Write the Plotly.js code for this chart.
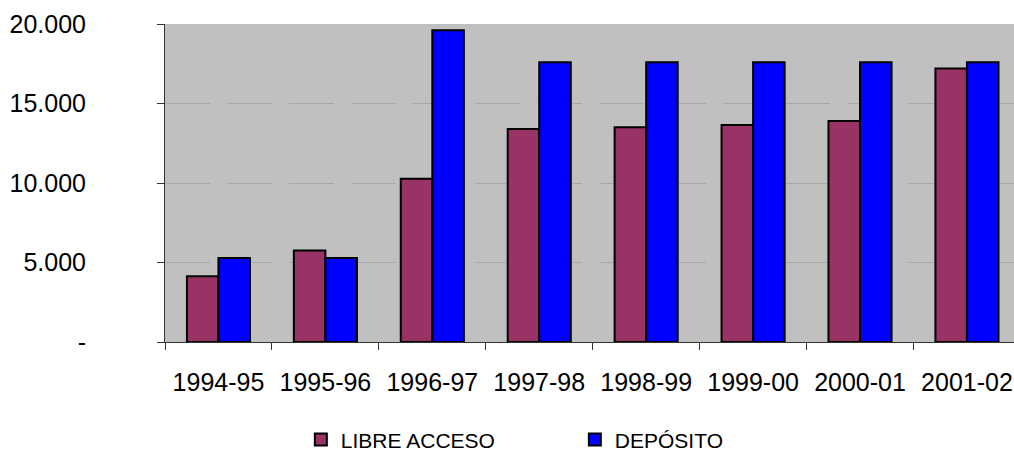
<!DOCTYPE html>
<html>
<head>
<meta charset="utf-8">
<script src="https://cdn.plot.ly/plotly-3.0.1.min.js"></script>
<style>
html,body{margin:0;padding:0;background:#fff;overflow:hidden;}
#chart{width:1014px;height:470px;}
</style>
</head>
<body>
<div id="chart"></div>
<script>
const categories = ["1994-95","1995-96","1996-97","1997-98","1998-99","1999-00","2000-01","2001-02"];
const libreAcceso = [4130, 5760, 10270, 13400, 13500, 13650, 13900, 17200];
const deposito = [5280, 5280, 19600, 17600, 17600, 17600, 17600, 17600];
const yTickVals = [0, 5000, 10000, 15000, 20000];
const yTickText = ["-", "5.000", "10.000", "15.000", "20.000"];

const traces = [
  {
    type: "bar", name: "LIBRE ACCESO", x: categories, y: libreAcceso,
    marker: {color: "#993366", line: {color: "#000000", width: 2}},
    hoverinfo: "none"
  },
  {
    type: "bar", name: "DEPÓSITO", x: categories, y: deposito,
    marker: {color: "#0000ff", line: {color: "#000000", width: 2}},
    hoverinfo: "none"
  }
];

const layout = {
  width: 1014, height: 470,
  margin: {l: 165, r: 0, t: 24, b: 128, pad: 0},
  paper_bgcolor: "#ffffff",
  plot_bgcolor: "#c0c0c0",
  font: {family: "Liberation Sans, Arial, sans-serif", color: "#000000"},
  barmode: "group",
  bargap: 0.41,
  bargroupgap: 0,
  showlegend: true,
  legend: {
    orientation: "h",
    x: 0.16, xanchor: "left",
    y: -0.308, yanchor: "middle",
    font: {size: 21, family: "Liberation Sans, Arial, sans-serif"},
    entrywidth: 229, entrywidthmode: "pixels",
    bgcolor: "rgba(0,0,0,0)",
    traceorder: "normal"
  },
  xaxis: {
    type: "category",
    range: [-0.5, 7.44],
    tickson: "boundaries",
    ticks: "outside", ticklen: 7, tickcolor: "#333333", tickwidth: 1,
    showline: true, linecolor: "#333333", linewidth: 1,
    showgrid: false, zeroline: false,
    tickfont: {size: 25, family: "Liberation Sans, Arial, sans-serif"},
    ticklabelstandoff: 18,
    fixedrange: true
  },
  yaxis: {
    range: [0, 20000],
    tickvals: yTickVals, ticktext: yTickText,
    ticks: "outside", ticklen: 7, tickcolor: "#333333", tickwidth: 1,
    showline: true, linecolor: "#333333", linewidth: 1,
    showgrid: true, gridcolor: "#a8a8a8", gridwidth: 1, griddash: "45px,17px",
    zeroline: false,
    tickfont: {size: 25, family: "Liberation Sans, Arial, sans-serif"},
    ticklabelstandoff: 66,
    fixedrange: true
  }
};

Plotly.newPlot("chart", traces, layout, {staticPlot: true, displayModeBar: false});
</script>
</body>
</html>
